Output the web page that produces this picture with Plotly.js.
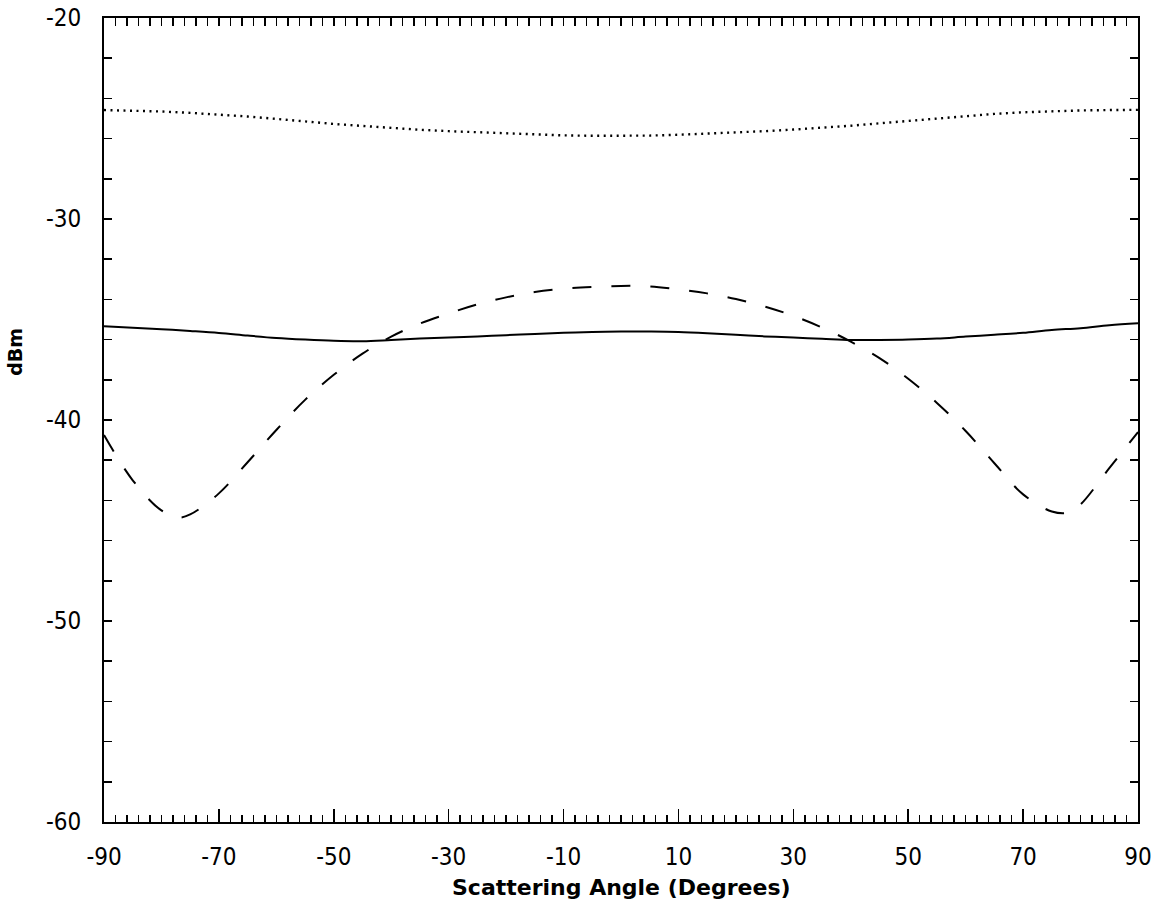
<!DOCTYPE html>
<html>
<head>
<meta charset="utf-8">
<script src="https://cdn.plot.ly/plotly-3.0.1.min.js"></script>
<style>html,body{margin:0;padding:0;background:#fff;}#chart{width:1168px;height:904px;}</style>
</head>
<body>
<div id="chart"></div>
<script>
// Dotted curve (upper)
const dotX = [-90,-85,-80,-75,-70,-65,-60,-55,-50,-45,-40,-35,-30,-25,-20,-15,-10,-5,0,5,10,15,20,25,30,35,40,45,50,55,60,65,70,75,80,85,90];
const dotY = [-24.58,-24.60,-24.65,-24.72,-24.80,-24.90,-25.02,-25.16,-25.27,-25.37,-25.47,-25.56,-25.63,-25.69,-25.75,-25.80,-25.84,-25.86,-25.87,-25.85,-25.81,-25.76,-25.70,-25.63,-25.55,-25.46,-25.36,-25.24,-25.12,-25.00,-24.88,-24.77,-24.69,-24.63,-24.60,-24.58,-24.57];
// Solid curve
const solidX = dotX;
const solidY = [-35.33,-35.41,-35.48,-35.57,-35.67,-35.80,-35.92,-36.00,-36.06,-36.08,-36.02,-35.95,-35.90,-35.84,-35.78,-35.72,-35.66,-35.62,-35.60,-35.60,-35.62,-35.68,-35.76,-35.84,-35.90,-35.96,-36.02,-36.02,-36.00,-35.95,-35.85,-35.76,-35.66,-35.52,-35.43,-35.28,-35.19];
// Dashed curve
const dashX = [-90,-85,-80,-77,-75,-70,-65,-60,-55,-50,-45,-40,-35,-30,-25,-20,-15,-10,-5,0,5,10,15,20,25,30,35,40,45,50,55,60,65,70,75,78,80,85,90];
const dashY = [-40.75,-43.0,-44.5,-44.85,-44.7,-43.65,-42.1,-40.5,-39.0,-37.75,-36.7,-35.85,-35.2,-34.7,-34.25,-33.9,-33.63,-33.47,-33.38,-33.33,-33.35,-33.5,-33.7,-33.98,-34.35,-34.82,-35.4,-36.1,-36.92,-37.95,-39.15,-40.55,-42.15,-43.7,-44.55,-44.6,-44.2,-42.4,-40.6];

const xTickVals = [-90,-70,-50,-30,-10,10,30,50,70,90];
const xTickText = ["-90","-70","-50","-30","-10","10","30","50","70","90"];
const yTickVals = [-60,-58,-56,-54,-52,-50,-48,-46,-44,-42,-40,-38,-36,-34,-32,-30,-28,-26,-24,-22,-20];
const yTickText = ["-60","","","","","-50","","","","","-40","","","","","-30","","","","","-20"];

const xTitle = "Scattering Angle (Degrees)";
const yTitle = "dBm";

const tickFont = {family: "Liberation Sans Narrow, DejaVu Sans Condensed, sans-serif", size: 24, color: "#000"};

const traces = [
  {x: dotX, y: dotY, xaxis: "x2", mode: "lines", line: {color: "#000", width: 2.4, dash: "2px,4.5px"}, showlegend: false, hoverinfo: "skip"},
  {x: solidX, y: solidY, mode: "lines", line: {color: "#000", width: 2, shape: "spline"}, showlegend: false, hoverinfo: "skip"},
  {x: dashX, y: dashY, mode: "lines", line: {color: "#000", width: 2, dash: "19px,20px", shape: "spline"}, showlegend: false, hoverinfo: "skip"}
];

const layout = {
  width: 1168, height: 904,
  margin: {l: 104, r: 30, t: 18, b: 82, pad: 0},
  paper_bgcolor: "#fff", plot_bgcolor: "#fff",
  showlegend: false,
  xaxis: {
    range: [-90, 90], showgrid: false, zeroline: false,
    showline: true, linecolor: "#000", linewidth: 2, mirror: true,
    tickmode: "array", tickvals: xTickVals, ticktext: xTickText,
    ticks: "inside", ticklen: 13, tickwidth: 1.5, tickcolor: "#000",
    ticklabelstandoff: 12,
    minor: {tickmode: "linear", tick0: -90, dtick: 2, ticks: "inside", ticklen: 7, tickwidth: 1.5, tickcolor: "#000", showgrid: false},
    tickfont: tickFont
  },
  xaxis2: {
    overlaying: "x", side: "top", range: [-90, 90], showgrid: false, zeroline: false,
    showline: false, tickmode: "linear", tick0: -90, dtick: 2,
    ticks: "inside", ticklen: 8, tickwidth: 1.5, tickcolor: "#000", showticklabels: false
  },
  yaxis: {
    range: [-60, -20], showgrid: false, zeroline: false,
    showline: true, linecolor: "#000", linewidth: 2, mirror: "ticks",
    tickmode: "array", tickvals: yTickVals, ticktext: yTickText,
    ticks: "inside", ticklen: 8, tickwidth: 1.5, tickcolor: "#000",
    ticklabelstandoff: 16,
    tickfont: tickFont
  },
  annotations: [
    {text: yTitle, xref: "paper", yref: "paper", x: -0.086, y: 0.585, xanchor: "center", yanchor: "middle",
     textangle: -90, showarrow: false, font: {family: "DejaVu Sans, sans-serif", size: 19, color: "#000", weight: "bold"}},
    {text: xTitle, xref: "paper", yref: "paper", x: 0.5, y: -0.081, xanchor: "center", yanchor: "middle",
     showarrow: false, font: {family: "DejaVu Sans, sans-serif", size: 22, color: "#000", weight: "bold"}}
  ]
};

Plotly.newPlot("chart", traces, layout, {staticPlot: true, displayModeBar: false});
</script>
</body>
</html>
